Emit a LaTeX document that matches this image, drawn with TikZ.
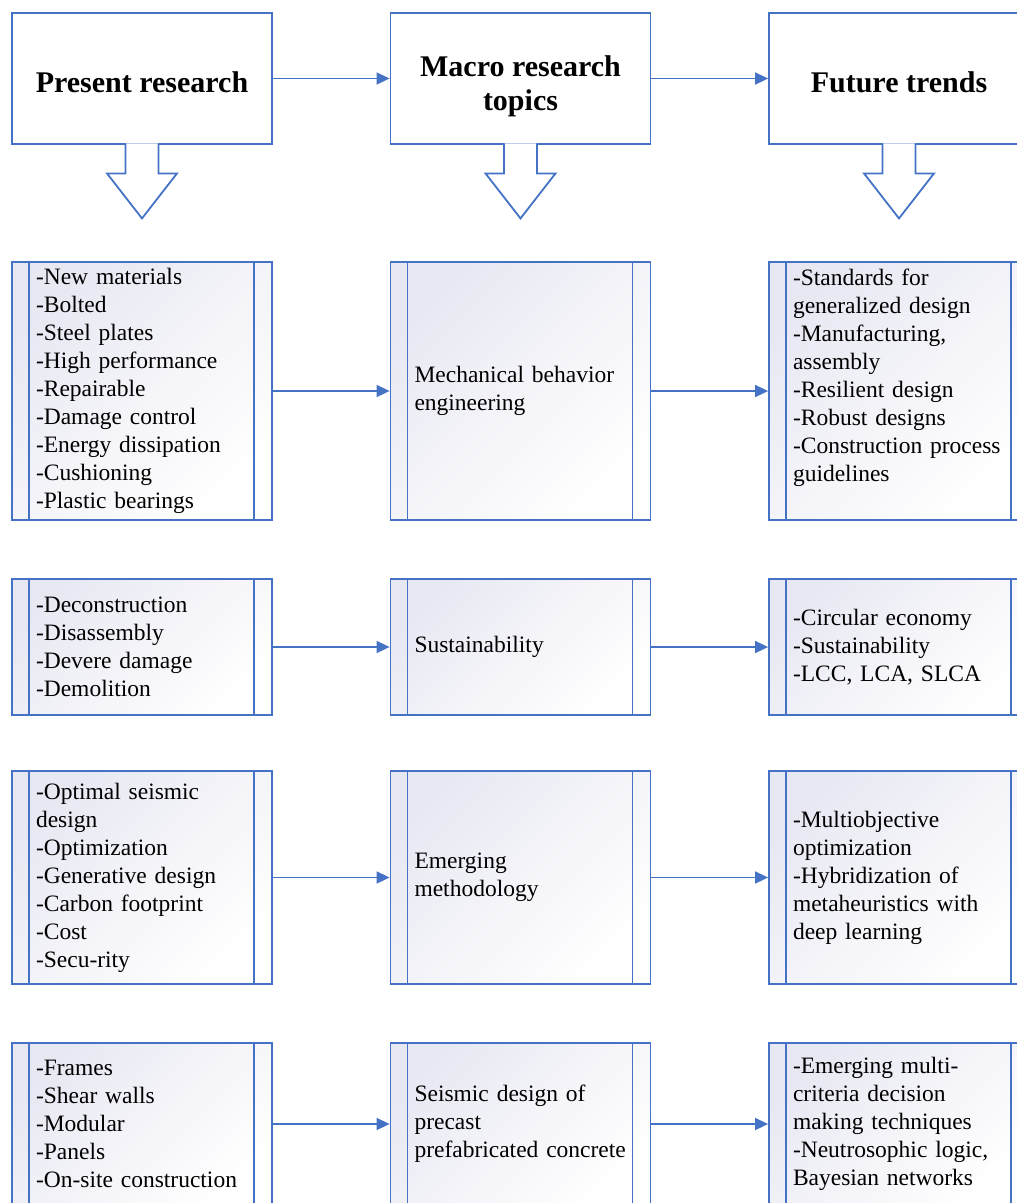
\documentclass[tikz,border=0pt]{standalone}
\usepackage{fontspec}
\setmainfont{Liberation Serif}
\usetikzlibrary{arrows.meta}
\definecolor{lineblue}{RGB}{68,114,196}
\definecolor{boxtint}{RGB}{232,232,243}
\tikzset{
  headbox/.style={draw=lineblue,line width=1.8pt,fill=white,minimum width=260pt,minimum height=131pt},
  headlabel/.style={align=center,font=\fontsize{30}{34}\selectfont\bfseries},
  panel/.style={draw=lineblue,line width=1.8pt,top color=boxtint,bottom color=white,shading angle=45,
    minimum width=260pt,text width=212pt,align=left,inner ysep=0pt,font=\fontsize{23.5}{28}\selectfont,
    path picture={\draw[lineblue,line width=1.8pt]
      ([xshift=17pt]path picture bounding box.north west) -- ([xshift=17pt]path picture bounding box.south west)
      ([xshift=-18pt]path picture bounding box.north east) -- ([xshift=-18pt]path picture bounding box.south east);}},
  link/.style={draw=lineblue,line width=1.6pt,-{Triangle[length=13pt,width=12pt]}},
  callout/.style={draw=lineblue,line width=1.8pt,fill=white,line join=miter}
}
\begin{document}
\begin{tikzpicture}[x=1pt,y=-1pt]
\useasboundingbox (0,0) rectangle (1017,1203);
\clip (0,0) rectangle (1017,1203);
% header row
\node[headbox,label={[headlabel,yshift=-3.8pt]center:Present research}] (pres) at (142,78.5) {};
\node[headbox,label={[headlabel,yshift=-8pt]center:{Macro research\\topics}}] (macro) at (520.5,78.5) {};
\node[headbox,label={[headlabel,yshift=-3.8pt]center:Future trends}] (fut) at (899,78.5) {};
\foreach \n in {pres,macro,fut}
  \draw[callout] ([xshift=-16.5pt,yshift=1.5pt]\n.south) -- ++(0,30) -- ++(-18.5,0) -- ++(35,45)
    -- ++(35,-45) -- ++(-18.5,0) -- ++(0,-30);
\draw[link] (pres) -- (macro);
\draw[link] (macro) -- (fut);
% row 1
\node[panel,minimum height=258pt] (p1) at (142,391) {-New materials\\-Bolted\\-Steel plates\\-High performance\\-Repairable\\-Damage control\\-Energy dissipation\\-Cushioning\\-Plastic bearings};
\node[panel,minimum height=258pt] (m1) at (520.5,391) {Mechanical behavior\\engineering};
\node[panel,minimum height=258pt] (f1) at (899,391) {-Standards for\\generalized design\\-Manufacturing,\\assembly\\-Resilient design\\-Robust designs\\-Construction process\\guidelines\\[4pt]\mbox{}};
% row 2
\node[panel,minimum height=136pt] (p2) at (142,647) {-Deconstruction\\-Disassembly\\-Devere damage\\-Demolition};
\node[panel,minimum height=136pt] (m2) at (520.5,647) {Sustainability};
\node[panel,minimum height=136pt] (f2) at (899,647) {-Circular economy\\-Sustainability\\-LCC, LCA, SLCA};
% row 3
\node[panel,minimum height=213pt] (p3) at (142,877.5) {-Optimal seismic\\design\\-Optimization\\-Generative design\\-Carbon footprint\\-Cost\\-Secu-rity};
\node[panel,minimum height=213pt] (m3) at (520.5,877.5) {Emerging\\methodology};
\node[panel,minimum height=213pt] (f3) at (899,877.5) {-Multiobjective\\optimization\\-Hybridization of\\metaheuristics with\\deep learning};
% row 4
\node[panel,minimum height=162pt] (p4) at (142,1124) {-Frames\\-Shear walls\\-Modular\\-Panels\\-On-site construction};
\node[panel,minimum height=162pt] (m4) at (520.5,1124) {Seismic design of\\precast\\prefabricated concrete};
\node[panel,minimum height=162pt] (f4) at (899,1124) {-Emerging multi-\\criteria decision\\making techniques\\-Neutrosophic logic,\\Bayesian networks};
\foreach \r in {1,2,3,4}{
  \draw[link] (p\r) -- (m\r);
  \draw[link] (m\r) -- (f\r);
}
\end{tikzpicture}
\end{document}
